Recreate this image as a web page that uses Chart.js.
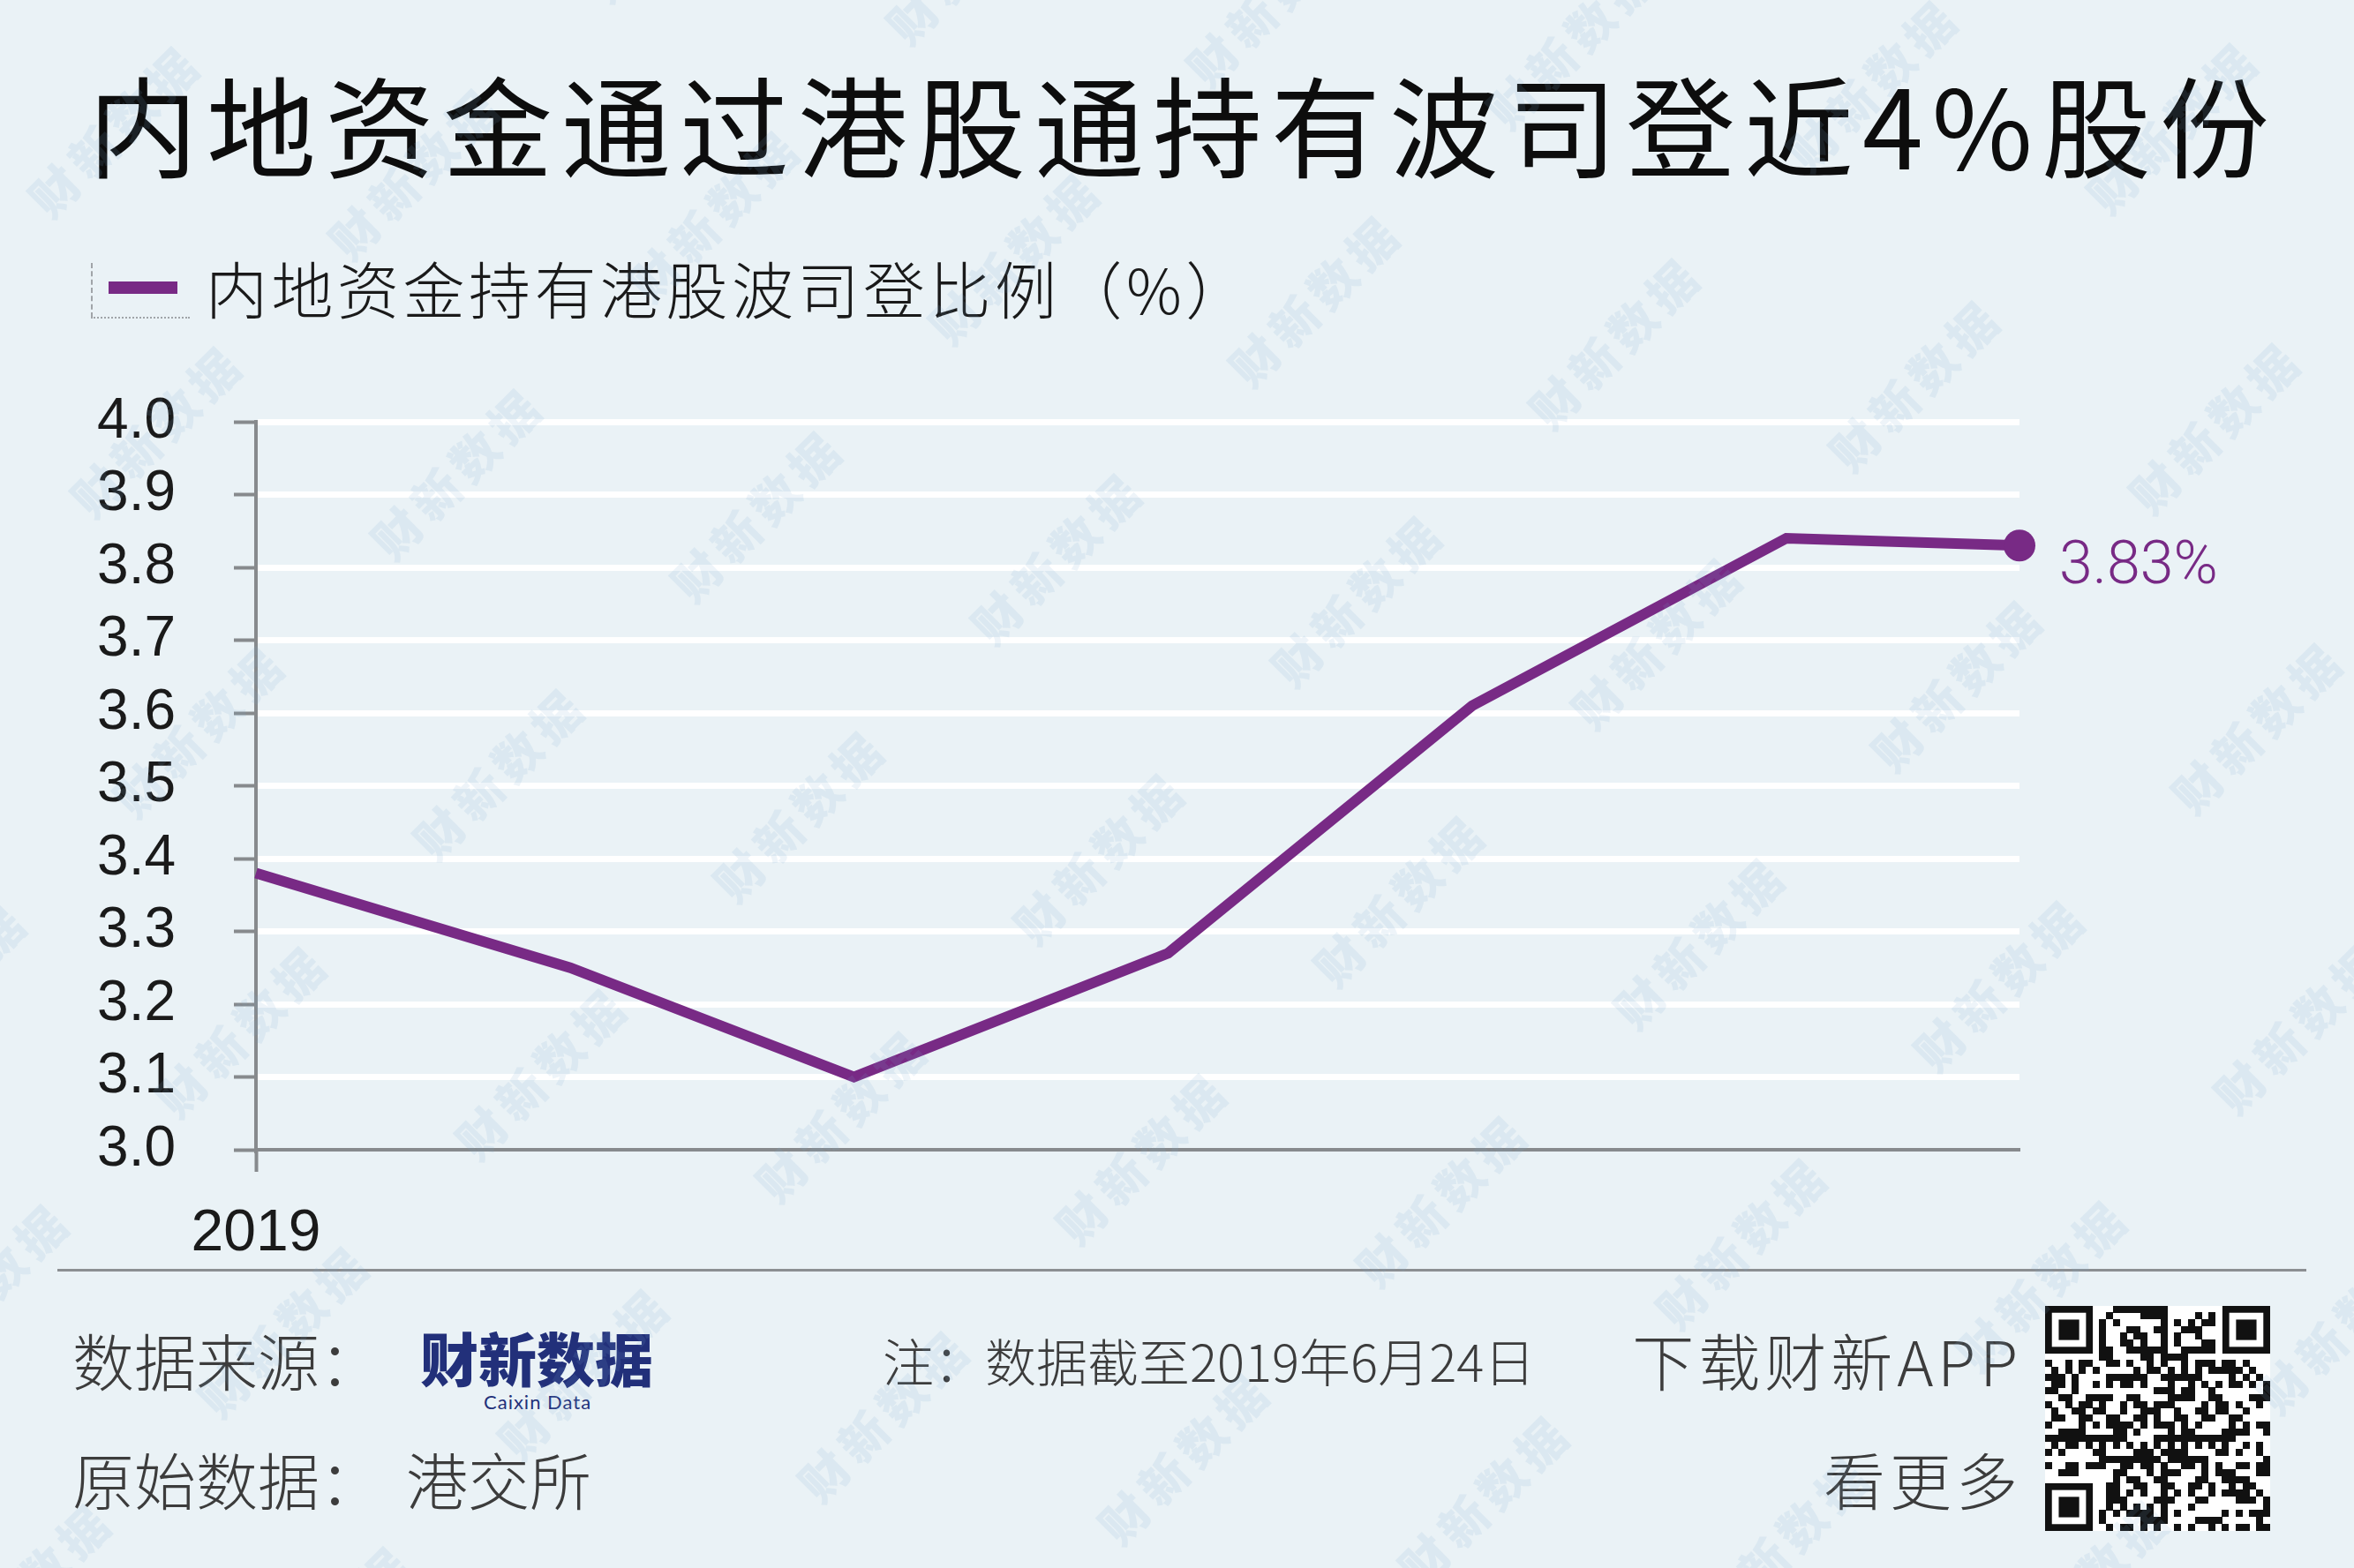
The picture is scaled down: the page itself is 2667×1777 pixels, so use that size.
<!DOCTYPE html>
<html>
<head>
<meta charset="utf-8">
<script src="https://cdn.jsdelivr.net/npm/chart.js@4.4.1/dist/chart.umd.min.js"></script>
<style>
  html, body { margin: 0; padding: 0; }
  body {
    width: 2667px; height: 1777px; position: relative; overflow: hidden;
    background: #eaf2f6;
    font-family: 'Noto Sans CJK SC', 'Noto Sans', sans-serif;
  }
  .t { position: absolute; white-space: nowrap; line-height: 1; }
  #title { left: 100px; top: 76px; font-size: 124px; letter-spacing: 10px; color: #0d0d0d; font-weight: 400; }
  #legendText { left: 233px; top: 291px; font-size: 70px; letter-spacing: 4.5px; color: #1a1a1a; font-weight: 300; }
  #legendSwatch { position: absolute; left: 123px; top: 319px; width: 78px; height: 14px; background: #782a85; }
  #legendV { position: absolute; left: 103px; top: 298px; width: 0; height: 62px; border-left: 2px dashed #a0a4a8; }
  #legendH { position: absolute; left: 103px; top: 359px; width: 112px; height: 0; border-top: 2px dotted #a0a4a8; }
  #footLine { position: absolute; left: 65px; top: 1438px; width: 2548px; height: 3px; background: #8c8f92; }
  .foot { font-size: 70px; color: #3c3c3c; font-weight: 300; }
  #src1 { left: 82px; top: 1506px; }
  #src2 { left: 82px; top: 1641px; }
  #src2b { left: 460px; top: 1641px; }
  #note { left: 1000px; top: 1512px; font-size: 58px; }
  #app1 { right: 376px; top: 1506px; letter-spacing: 5px; }
  #app2 { right: 376px; top: 1641px; letter-spacing: 5px; }
  #logo { left: 476px; top: 1504px; font-size: 66px; font-weight: 900; color: #22307a; letter-spacing: 0px; }
  #logoSub { left: 548px; top: 1578px; font-size: 22px; color: #22307a; font-family: 'Lato', 'Noto Sans', sans-serif; letter-spacing: 1px; }
  #qr { position: absolute; left: 2317px; top: 1480px; }
  #chart { position: absolute; left: 0; top: 0; z-index: 5; pointer-events: none; }
</style>
</head>
<body>
<div id="title" class="t">内地资金通过港股通持有波司登近4%股份</div>
<div id="legendV"></div><div id="legendH"></div>
<div id="legendSwatch"></div>
<div id="legendText" class="t">内地资金持有港股波司登比例（%）</div>

<div id="footLine"></div>
<div id="src1" class="t foot">数据来源：</div>
<div id="logo" class="t">财新数据</div>
<div id="logoSub" class="t">Caixin Data</div>
<div id="src2" class="t foot">原始数据：</div>
<div id="src2b" class="t foot">港交所</div>
<div id="note" class="t foot">注：数据截至2019年6月24日</div>
<div id="app1" class="t foot">下载财新APP</div>
<div id="app2" class="t foot">看更多</div>
<canvas id="qr" width="255" height="255"></canvas>

<canvas id="chart" width="2667" height="1777"></canvas>

<script>
// Observation dates and holding ratio (%)
const dates = ['2019-01-01', '2019-02-01', '2019-03-01', '2019-04-01', '2019-05-01', '2019-06-01', '2019-06-24'];
const values = [3.38, 3.25, 3.10, 3.27, 3.61, 3.84, 3.83];
const seriesLabel = '内地资金持有港股波司登比例（%）';
const xTickLabels = ['2019'];
const yMin = 3.0, yMax = 4.0, yStep = 0.1;

const lineColor = '#782a85';
const axisGray = '#878a8d';

// Days since the first observation, used as the horizontal position
const dayMs = 86400000;
const t0 = Date.parse(dates[0] + 'T00:00:00Z');
const days = dates.map(d => Math.round((Date.parse(d + 'T00:00:00Z') - t0) / dayMs));
const points = days.map((d, i) => ({ x: d, y: values[i] }));
const lastIdx = values.length - 1;

// Label for the most recent value, next to the end marker
const endLabel = {
  id: 'endLabel',
  afterDatasetsDraw(chart) {
    const el = chart.getDatasetMeta(0).data[lastIdx];
    const ctx = chart.ctx;
    ctx.save();
    ctx.font = '300 68px Roboto, "Liberation Sans", sans-serif';
    ctx.fillStyle = lineColor;
    ctx.textAlign = 'left';
    ctx.textBaseline = 'middle';
    ctx.fillText(values[lastIdx].toFixed(2) + '%', el.x + 45, el.y + 26);
    ctx.restore();
  }
};

// Repeating brand watermark over the whole graphic
const watermark = {
  id: 'watermark',
  afterDraw(chart) {
    const ctx = chart.ctx;
    const W = chart.width, H = chart.height;
    ctx.save();
    ctx.font = '900 54px "Noto Sans CJK SC", sans-serif';
    ctx.fillStyle = 'rgba(124,167,206,0.13)';
    ctx.textAlign = 'center';
    ctx.textBaseline = 'middle';
    try { ctx.letterSpacing = '8px'; } catch (e) {}
    const ox = 519, oy = 536, ax = 340, ay = 48, bx = 48, by = 340;
    for (let i = -8; i <= 10; i++) {
      for (let j = -6; j <= 8; j++) {
        const cx = ox + i * ax + j * bx;
        const cy = oy + i * ay + j * by;
        if (cx < -200 || cx > W + 200 || cy < -200 || cy > H + 200) continue;
        ctx.save();
        ctx.translate(cx, cy);
        ctx.rotate(-Math.PI / 4);
        ctx.fillText('财新数据', 0, 0);
        ctx.restore();
      }
    }
    ctx.restore();
  }
};

new Chart(document.getElementById('chart'), {
  type: 'line',
  data: {
    datasets: [{
      label: seriesLabel,
      data: points,
      borderColor: lineColor,
      backgroundColor: lineColor,
      borderWidth: 12,
      tension: 0,
      fill: false,
      clip: false,
      pointRadius: ctx => ctx.dataIndex === lastIdx ? 18 : 0,
      pointBorderWidth: 0,
      pointBackgroundColor: lineColor,
      pointHoverRadius: 0
    }]
  },
  options: {
    responsive: false,
    animation: false,
    events: [],
    layout: { padding: { top: 478, right: 379, bottom: 0, left: 0 } },
    plugins: {
      legend: { display: false },
      title: { display: false },
      tooltip: { enabled: false }
    },
    scales: {
      x: {
        type: 'linear',
        min: days[0],
        max: days[lastIdx],
        offset: false,
        afterBuildTicks: scale => { scale.ticks = [{ value: days[0] }]; },
        afterFit: scale => { scale.height = 474; },
        ticks: {
          callback: (v, i) => xTickLabels[i] ?? '',
          font: { family: '"Liberation Sans", Arial, sans-serif', size: 66 },
          color: '#1a1a1a',
          padding: 31,
          maxRotation: 0,
          autoSkip: false
        },
        grid: {
          display: true,
          drawOnChartArea: false,
          drawTicks: true,
          tickLength: 25,
          tickWidth: 4,
          tickColor: axisGray
        },
        border: { display: true, color: axisGray, width: 4 }
      },
      y: {
        min: yMin,
        max: yMax,
        afterFit: scale => { scale.width = 290; },
        ticks: {
          stepSize: yStep,
          callback: v => Number(v).toFixed(1),
          font: { family: '"Liberation Sans", Arial, sans-serif', size: 64 },
          color: '#1a1a1a',
          padding: 66
        },
        grid: {
          color: ctx => Math.abs(ctx.tick.value - yMin) < 1e-9 ? 'rgba(0,0,0,0)' : '#ffffff',
          lineWidth: 7,
          drawTicks: true,
          tickLength: 25,
          tickWidth: 4,
          tickColor: axisGray
        },
        border: { display: true, color: axisGray, width: 4 }
      }
    }
  },
  plugins: [endLabel, watermark]
});

// App download code block in the footer
(function drawCode() {
  const c = document.getElementById('qr');
  const ctx = c.getContext('2d');
  const n = 33, s = 255 / n;
  ctx.fillStyle = '#ffffff';
  ctx.fillRect(0, 0, 255, 255);
  ctx.fillStyle = '#111111';
  const inFinder = (x, y) => (x < 8 && y < 8) || (x >= n - 8 && y < 8) || (x < 8 && y >= n - 8);
  const finder = (fx, fy) => {
    ctx.fillRect(fx * s, fy * s, 7 * s, 7 * s);
    ctx.fillStyle = '#ffffff';
    ctx.fillRect((fx + 1) * s, (fy + 1) * s, 5 * s, 5 * s);
    ctx.fillStyle = '#111111';
    ctx.fillRect((fx + 2) * s, (fy + 2) * s, 3 * s, 3 * s);
  };
  for (let y = 0; y < n; y++) {
    for (let x = 0; x < n; x++) {
      if (inFinder(x, y)) continue;
      const h = (x * 73 + y * 151 + x * y * 37 + (x ^ y) * 11) % 17;
      if (h < 8) ctx.fillRect(Math.floor(x * s), Math.floor(y * s), Math.ceil(s), Math.ceil(s));
    }
  }
  finder(0, 0); finder(n - 7, 0); finder(0, n - 7);
})();
</script>
</body>
</html>
